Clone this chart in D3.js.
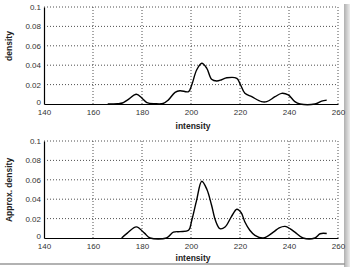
<!DOCTYPE html>
<html><head><meta charset="utf-8">
<script src="https://cdn.jsdelivr.net/npm/d3@7"></script>
<style>body{margin:0;background:#fff}svg{display:block}text{font-family:"Liberation Sans",Arial,sans-serif}</style>
</head><body><div id="c"></div>
<script>
const xTicks = [140,160,180,200,220,240,260];
const yTicks = [0,0.02,0.04,0.06,0.08,0.1];
const yTickLabels = ["0","0.02","0.04","0.06","0.08","0.1"];
const topX = [166,170,172,174,177.7,180,182,185.3,188.6,190.7,193.5,195.5,199,200.3,202.3,204.4,206.4,208.4,210.5,212.5,214.6,218.7,220,222,224.8,228.8,230.9,234.3,237,239.7,242.4,244.5,250.6,253.3,255.4];
const topY = [0,0.0003,0.001,0.004,0.010,0.006,0.0015,0.0003,0.0005,0.004,0.012,0.0137,0.0128,0.0196,0.035,0.042,0.037,0.0255,0.0237,0.025,0.027,0.0265,0.021,0.011,0.0075,0.0024,0.0024,0.0075,0.011,0.0093,0.0024,0,0,0.003,0.004];
const botX = [171.7,174,177.7,181,183.3,190,192.8,195.5,199,200.3,202.3,204.4,206.5,208.4,210,211.8,213.9,216.5,218.7,220.5,222,224,226.1,229.5,233.6,236,238.4,240.5,242.4,245.7,250.6,252.7,255.4];
const botY = [0,0.005,0.0115,0.005,0,0,0.006,0.0066,0.008,0.018,0.039,0.0585,0.050,0.0337,0.018,0.0096,0.0113,0.022,0.0296,0.026,0.0165,0.008,0.0028,0,0.006,0.0105,0.012,0.0095,0.006,0,0,0.0044,0.0046];
const panels = [
  {xs: topX, ys: topY, top: 7, bottom: 104, ylabel: "density", ylabelY: 46, xlabelY: 129},
  {xs: botX, ys: botY, top: 141, bottom: 238, ylabel: "Approx. density", ylabelY: 190, xlabelY: 261}
];
const W=350,H=267;
const svg = d3.select("#c").append("svg").attr("width",W).attr("height",H);
const grad = svg.append("defs").append("linearGradient").attr("id","gb");
grad.append("stop").attr("offset","0").attr("stop-color","#b0b0b0");
grad.append("stop").attr("offset","1").attr("stop-color","#ececec");
svg.append("rect").attr("x",344).attr("y",4).attr("width",6).attr("height",H-4).attr("fill","url(#gb)");
svg.append("line").attr("x1",0).attr("x2",345).attr("y1",264).attr("y2",264).attr("stroke","#999").attr("stroke-width",1.5);
const x = d3.scaleLinear().domain([140,260]).range([44,338]);
panels.forEach(p=>{
  const y = d3.scaleLinear().domain([0,0.1]).range([p.bottom,p.top]);
  const g = svg.append("g");
  g.selectAll(".vg").data(xTicks.slice(1)).join("line")
    .attr("x1",d=>x(d)).attr("x2",d=>x(d)).attr("y1",p.top).attr("y2",p.bottom)
    .attr("stroke","#222").attr("stroke-width",0.8).attr("stroke-dasharray","1,2");
  g.selectAll(".hg").data(yTicks.slice(1)).join("line")
    .attr("x1",x(140)).attr("x2",x(260)).attr("y1",d=>y(d)).attr("y2",d=>y(d))
    .attr("stroke","#222").attr("stroke-width",0.8).attr("stroke-dasharray","1,2");
  const ax = d3.axisBottom(x).tickValues(xTicks).tickSize(0).tickPadding(5).tickFormat(d3.format("d"));
  const xa = g.append("g").attr("transform",`translate(0,${p.bottom})`).call(ax);
  xa.select(".domain").attr("stroke","#000").attr("stroke-width",1.2);
  xa.selectAll("text").attr("font-size",8).attr("fill","#333");
  const ay = d3.axisLeft(y).tickValues(yTicks).tickSize(0).tickPadding(3).tickFormat((d,i)=>yTickLabels[i]);
  const ya = g.append("g").attr("transform",`translate(${x(140)},0)`).call(ay);
  ya.select(".domain").attr("stroke","#000").attr("stroke-width",1.2);
  ya.selectAll("text").attr("font-size",8).attr("fill","#333");
  ya.selectAll(".tick").filter(d=>d===0).select("text").attr("y",-2.5);
  const line = d3.line().x((d,i)=>x(p.xs[i])).y(d=>y(d)).curve(d3.curveCatmullRom.alpha(0.5));
  g.append("path").datum(p.ys).attr("d",line).attr("fill","none").attr("stroke","#000").attr("stroke-width",1.4);
  g.append("text").attr("transform",`translate(12,${p.ylabelY}) rotate(-90)`).attr("text-anchor","middle")
    .attr("font-size",8.5).attr("font-weight","bold").attr("fill","#222").text(p.ylabel);
  g.append("text").attr("x",193).attr("y",p.xlabelY).attr("text-anchor","middle")
    .attr("font-size",8.5).attr("font-weight","bold").attr("fill","#222").text("intensity");
});
</script></body></html>
